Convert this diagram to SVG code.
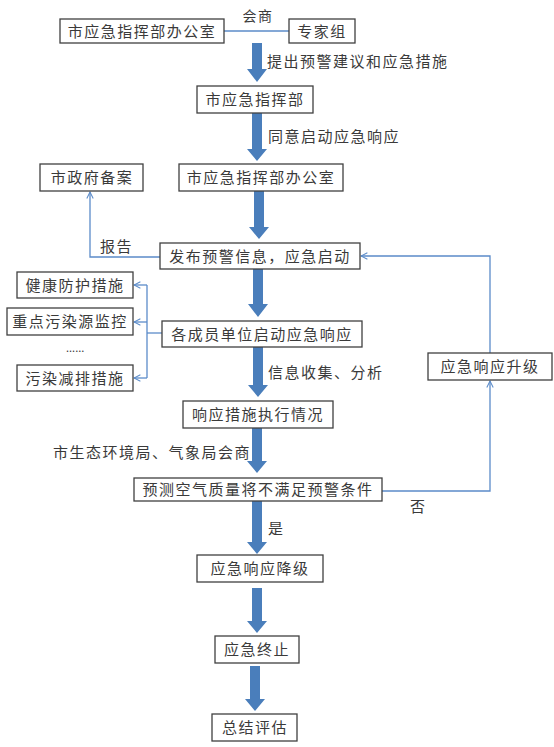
<svg xmlns="http://www.w3.org/2000/svg" width="554" height="747" viewBox="0 0 554 747">
<style>
.b{fill:#fff;stroke:#404040;stroke-width:1.3}
.t{font-family:"Noto Sans CJK SC","Noto Sans",sans-serif;font-size:15px;fill:#3a3a3a;letter-spacing:1.5px}
.m{text-anchor:middle}
.c{fill:none;stroke:#5b8bc9;stroke-width:1.3}
.a{fill:#4a7ebb}
</style>
<defs>
<marker id="ar" viewBox="0 0 10 10" refX="9" refY="5" markerWidth="8" markerHeight="8" markerUnits="userSpaceOnUse" orient="auto">
<path d="M1,1 L9,5 L1,9" fill="none" stroke="#5b8bc9" stroke-width="1.3"/>
</marker>
</defs>
<g id="connectors">
<path class="c" d="M224,31 H289"/>
<path class="c" d="M160,257 H90 V192" marker-end="url(#ar)"/>
<path class="c" d="M382,491 H490 V381" marker-end="url(#ar)"/>
<path class="c" d="M490,353 V256 H361" marker-end="url(#ar)"/>
<path class="c" d="M162,333 H147"/>
<path class="c" d="M147,285 V378"/>
<path class="c" d="M147,285 H134" marker-end="url(#ar)"/>
<path class="c" d="M147,322 H134" marker-end="url(#ar)"/>
<path class="c" d="M147,378 H134" marker-end="url(#ar)"/>
<path class="a" d="M252,43 H262 V69 H267 L257,82 L247,69 H252 Z"/>
<path class="a" d="M252,113 H262 V149 H267 L257,161 L247,149 H252 Z"/>
<path class="a" d="M254,191 H264 V227 H269 L259,239 L249,227 H254 Z"/>
<path class="a" d="M253,269 H263 V304 H268 L258,317 L248,304 H253 Z"/>
<path class="a" d="M253,347 H263 V385 H268 L258,397 L248,385 H253 Z"/>
<path class="a" d="M252,428 H262 V461 H267 L257,473 L247,461 H252 Z"/>
<path class="a" d="M252,501 H262 V542 H267 L257,554 L247,542 H252 Z"/>
<path class="a" d="M252,588 H262 V621 H267 L257,633 L247,621 H252 Z"/>
<path class="a" d="M250,666 H260 V699 H265 L255,711 L245,699 H250 Z"/>
<text class="t m" x="258" y="21" style="font-size:14px">会商</text>
<text class="t" x="267" y="67">提出预警建议和应急措施</text>
<text class="t" x="268" y="142">同意启动应急响应</text>
<text class="t" x="100" y="252">报告</text>
<text class="t" x="268" y="378">信息收集、分析</text>
<text class="t" x="53" y="458">市生态环境局、气象局会商</text>
<text class="t" x="410" y="512">否</text>
<text class="t" x="268" y="534">是</text>
<text class="t" x="66" y="352" style="font-size:11px;letter-spacing:0">......</text>
</g>
<g id="n1"><rect class="b" x="60" y="19" width="164" height="24"/><text class="t m" x="142" y="36.5">市应急指挥部办公室</text></g>
<g id="n2"><rect class="b" x="289" y="19" width="66" height="24"/><text class="t m" x="322" y="36.5">专家组</text></g>
<g id="n3"><rect class="b" x="197" y="86" width="116" height="27"/><text class="t m" x="255" y="105">市应急指挥部</text></g>
<g id="n4"><rect class="b" x="40" y="164" width="103" height="27"/><text class="t m" x="92" y="183">市政府备案</text></g>
<g id="n5"><rect class="b" x="179" y="164" width="164" height="27"/><text class="t m" x="261" y="183">市应急指挥部办公室</text></g>
<g id="n6"><rect class="b" x="160" y="243" width="200" height="26"/><text class="t m" x="260" y="261.5">发布预警信息，应急启动</text></g>
<g id="n7"><rect class="b" x="17" y="272" width="116" height="26"/><text class="t m" x="75" y="290.5">健康防护措施</text></g>
<g id="n8"><rect class="b" x="7" y="308" width="126" height="27"/><text class="t m" x="70" y="327">重点污染源监控</text></g>
<g id="n9"><rect class="b" x="17" y="365" width="116" height="26"/><text class="t m" x="75" y="383.5">污染减排措施</text></g>
<g id="n10"><rect class="b" x="162" y="321" width="200" height="26"/><text class="t m" x="262" y="339.5">各成员单位启动应急响应</text></g>
<g id="n11"><rect class="b" x="428" y="353" width="124" height="27"/><text class="t m" x="490" y="372">应急响应升级</text></g>
<g id="n12"><rect class="b" x="183" y="401" width="150" height="27"/><text class="t m" x="258" y="420">响应措施执行情况</text></g>
<g id="n13"><rect class="b" x="134" y="478" width="248" height="23"/><text class="t m" x="258" y="495">预测空气质量将不满足预警条件</text></g>
<g id="n14"><rect class="b" x="197" y="555" width="126" height="27"/><text class="t m" x="260" y="574">应急响应降级</text></g>
<g id="n15"><rect class="b" x="215" y="636" width="84" height="27"/><text class="t m" x="257" y="655">应急终止</text></g>
<g id="n16"><rect class="b" x="212" y="714" width="85" height="27"/><text class="t m" x="255" y="733">总结评估</text></g>
</svg>
